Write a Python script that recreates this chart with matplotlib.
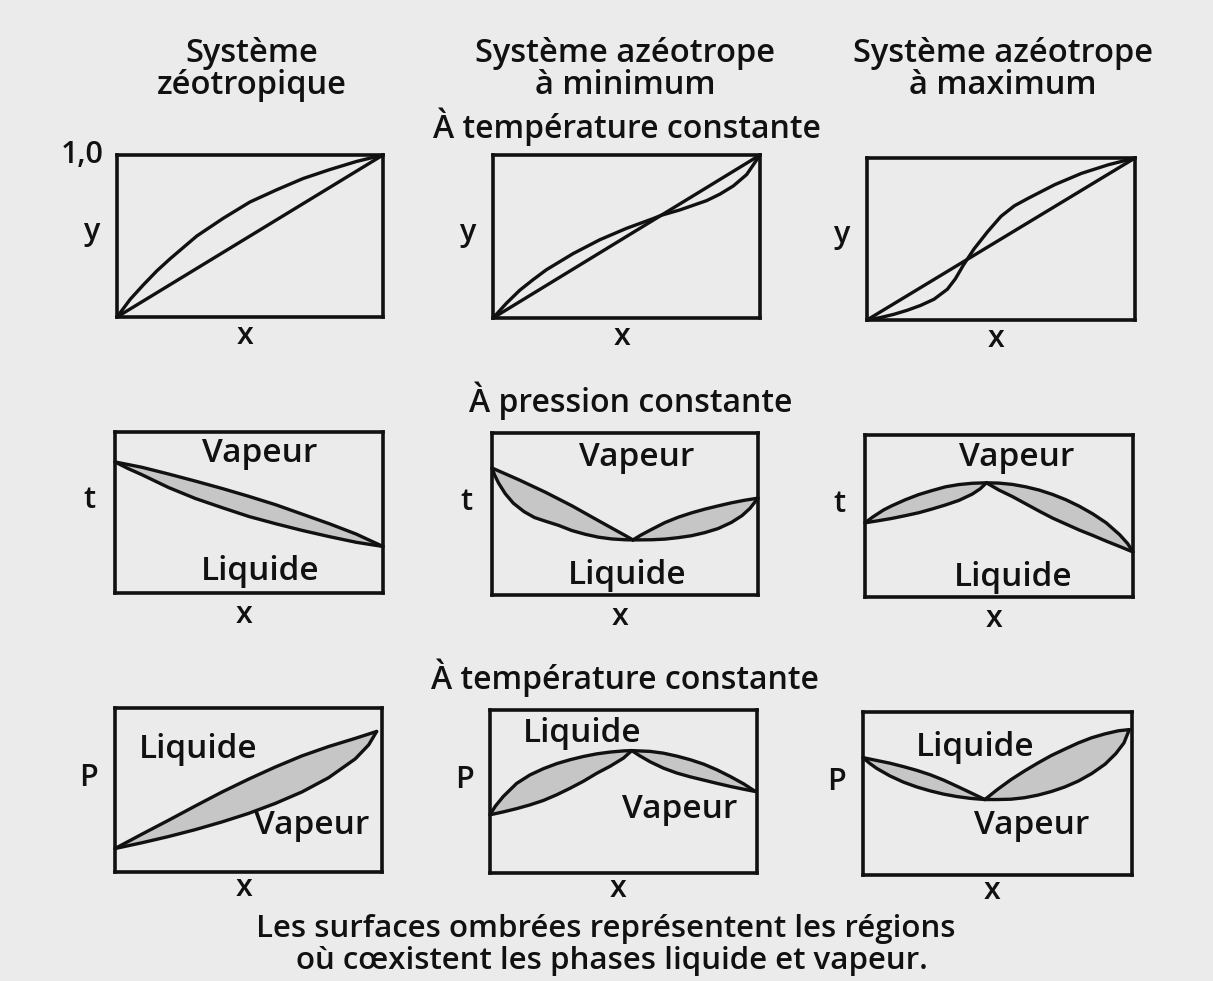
import matplotlib.pyplot as plt

W, H = 1213, 981
plt.rcParams['font.family'] = ['Open Sans', 'DejaVu Sans']

# --- y-x diagrams (constant temperature) ---
zeo_yx_x = [0, .05, .1, .15, .2, .3, .4, .5, .6, .7, .8, .9, 1]
zeo_yx_y = [0, .11, .2, .285, .36, .5, .61, .71, .785, .855, .91, .96, 1]

min_yx_x = [0, .05, .1, .15, .2, .3, .4, .5, .6, .63, .7, .8, .85, .9, .95, 1]
min_yx_y = [0, .09, .17, .235, .296, .395, .48, .55, .61, .63, .663, .72, .76, .81, .88, 1]

max_yx_x = [0, .05, .1, .15, .2, .25, .3, .33, .36, .4, .45, .5, .55, .6, .7, .8, .9, 1]
max_yx_y = [0, .015, .035, .06, .09, .128, .19, .255, .34, .44, .545, .64, .705, .75,
            .835, .905, .958, 1]

diag = [0, 1]

# --- t-x diagrams (constant pressure) ---
zeo_tx_dew_x = [0, .1, .2, .3, .4, .5, .6, .7, .8, .9, 1]
zeo_tx_dew_y = [.814, .781, .739, .695, .649, .60, .548, .489, .43, .366, .289]
zeo_tx_bub_x = [0, .05, .1, .2, .3, .4, .5, .6, .7, .8, .9, 1]
zeo_tx_bub_y = [.814, .772, .735, .655, .587, .53, .475, .43, .388, .35, .315, .289]

min_tx_left_up_x = [0, .1, .2, .3, .4, .5, .53]
min_tx_left_up_y = [.784, .712, .635, .551, .459, .368, .34]
min_tx_left_lo_x = [0, .01, .025, .05, .08, .12, .16, .2, .25, .3, .35, .4, .45, .5, .53]
min_tx_left_lo_y = [.784, .74, .69, .625, .567, .515, .478, .456, .43, .398, .375, .357,
                    .346, .341, .34]
min_tx_right_up_x = [.53, .56, .6, .65, .7, .75, .8, .85, .9, .95, 1]
min_tx_right_up_y = [.34, .37, .405, .447, .48, .507, .53, .55, .569, .585, .598]
min_tx_right_lo_x = [.53, .6, .65, .7, .75, .8, .85, .9, .94, .97, 1]
min_tx_right_lo_y = [.34, .341, .345, .354, .366, .385, .41, .448, .49, .535, .598]

max_tx_left_up_x = [0, .03, .07, .1, .15, .2, .25, .3, .35, .4, .453]
max_tx_left_up_y = [.458, .495, .538, .563, .6, .632, .657, .68, .694, .702, .705]
max_tx_left_lo_x = [0, .05, .1, .15, .2, .25, .3, .35, .4, .43, .453]
max_tx_left_lo_y = [.458, .471, .485, .502, .52, .543, .568, .596, .635, .668, .705]
max_tx_right_up_x = [.453, .5, .55, .6, .65, .7, .75, .8, .85, .9, .95, .98, 1]
max_tx_right_up_y = [.705, .703, .695, .68, .66, .633, .6, .56, .513, .458, .385, .33, .278]
max_tx_right_lo_x = [.453, .5, .55, .6, .65, .7, .75, .8, .85, .9, .95, 1]
max_tx_right_lo_y = [.705, .66, .62, .575, .53, .487, .45, .413, .38, .345, .312, .278]

# --- P-x diagrams (constant temperature) ---
zeo_px_up_x = [0, .1, .2, .3, .4, .5, .6, .7, .8, .9, .98]
zeo_px_up_y = [.143, .23, .315, .402, .487, .566, .64, .708, .765, .815, .857]
zeo_px_lo_x = [0, .1, .2, .3, .4, .5, .6, .7, .8, .9, .95, .98]
zeo_px_lo_y = [.143, .178, .216, .258, .305, .357, .418, .488, .575, .69, .775, .857]

min_px_left_up_x = [0, .02, .05, .1, .15, .2, .25, .3, .35, .4, .45, .5, .531]
min_px_left_up_y = [.357, .41, .47, .55, .602, .64, .671, .695, .715, .731, .742, .749, .751]
min_px_left_lo_x = [0, .05, .1, .15, .2, .25, .3, .35, .4, .45, .5, .531]
min_px_left_lo_y = [.357, .375, .395, .418, .445, .48, .52, .563, .612, .655, .705, .751]
min_px_right_up_x = [.531, .6, .65, .7, .75, .8, .85, .9, .95, .994]
min_px_right_up_y = [.751, .746, .735, .717, .695, .668, .633, .592, .547, .5]
min_px_right_lo_x = [.531, .56, .6, .65, .7, .75, .8, .85, .9, .95, .994]
min_px_right_lo_y = [.751, .72, .682, .643, .613, .59, .57, .55, .531, .514, .5]

max_px_left_up_x = [0, .05, .1, .15, .2, .25, .3, .35, .4, .453]
max_px_left_up_y = [.72, .703, .686, .665, .642, .615, .582, .544, .505, .463]
max_px_left_lo_x = [0, .025, .05, .1, .15, .2, .25, .3, .35, .4, .453]
max_px_left_lo_y = [.72, .685, .655, .608, .57, .54, .516, .496, .481, .47, .463]
max_px_right_up_x = [.453, .5, .55, .6, .65, .7, .75, .8, .85, .9, .95, .99]
max_px_right_up_y = [.463, .525, .585, .638, .687, .733, .772, .81, .842, .866, .885, .892]
max_px_right_lo_x = [.453, .5, .55, .6, .65, .7, .75, .8, .85, .9, .94, .97, .99]
max_px_right_lo_y = [.463, .463, .465, .474, .49, .512, .54, .576, .622, .68, .745, .81, .892]

col_titles = [("Système", "zéotropique"), ("Système azéotrope", "à minimum"),
              ("Système azéotrope", "à maximum")]
row_titles = ["À température constante", "À pression constante",
              "À température constante"]
row_ylabels = ["y", "t", "P"]
footer = ["Les surfaces ombrées représentent les régions",
          "où cœxistent les phases liquide et vapeur."]

BG = '#ebebeb'
SHADE = '#c6c6c6'
INK = '#111111'

# panel boxes in pixels: (left, top, right, bottom)
boxes = [
    [(117, 155, 383, 317), (493, 155, 760, 318), (867, 158, 1135, 320)],
    [(115, 432, 383, 593), (492, 433, 758, 595), (865, 435, 1133, 597)],
    [(115, 708, 382, 872), (490, 710, 757, 873), (863, 712, 1132, 875)],
]

fig = plt.figure(figsize=(W / 100, H / 100), dpi=100, facecolor=BG)


def px(x, y):
    return x / W, 1 - y / H


def make_ax(box):
    l, t, r, b = box
    ax = fig.add_axes([l / W, 1 - b / H, (r - l) / W, (b - t) / H])
    ax.set_xlim(0, 1)
    ax.set_ylim(0, 1)
    ax.set_facecolor(BG)
    ax.set_xticks([])
    ax.set_yticks([])
    for s in ax.spines.values():
        s.set_linewidth(2.6)
        s.set_color(INK)
    return ax


def curve(ax, x, y):
    ax.plot(x, y, color=INK, lw=2.4, solid_joinstyle='round',
            solid_capstyle='round', clip_on=False)


def lens(ax, ux, uy, lx, ly):
    ax.fill(list(ux) + list(lx[::-1]), list(uy) + list(ly[::-1]),
            color=SHADE, lw=0)
    curve(ax, ux, uy)
    curve(ax, lx, ly)


axes = [[make_ax(b) for b in row] for row in boxes]

# row 1: y vs x
a = axes[0]
curve(a[0], diag, diag)
curve(a[0], zeo_yx_x, zeo_yx_y)
curve(a[1], diag, diag)
curve(a[1], min_yx_x, min_yx_y)
curve(a[2], diag, diag)
curve(a[2], max_yx_x, max_yx_y)

# row 2: t vs x
a = axes[1]
lens(a[0], zeo_tx_dew_x, zeo_tx_dew_y, zeo_tx_bub_x, zeo_tx_bub_y)
lens(a[1], min_tx_left_up_x, min_tx_left_up_y, min_tx_left_lo_x, min_tx_left_lo_y)
lens(a[1], min_tx_right_up_x, min_tx_right_up_y, min_tx_right_lo_x, min_tx_right_lo_y)
lens(a[2], max_tx_left_up_x, max_tx_left_up_y, max_tx_left_lo_x, max_tx_left_lo_y)
lens(a[2], max_tx_right_up_x, max_tx_right_up_y, max_tx_right_lo_x, max_tx_right_lo_y)

# row 3: P vs x
a = axes[2]
lens(a[0], zeo_px_up_x, zeo_px_up_y, zeo_px_lo_x, zeo_px_lo_y)
lens(a[1], min_px_left_up_x, min_px_left_up_y, min_px_left_lo_x, min_px_left_lo_y)
lens(a[1], min_px_right_up_x, min_px_right_up_y, min_px_right_lo_x, min_px_right_lo_y)
lens(a[2], max_px_left_up_x, max_px_left_up_y, max_px_left_lo_x, max_px_left_lo_y)
lens(a[2], max_px_right_up_x, max_px_right_up_y, max_px_right_lo_x, max_px_right_lo_y)

txt = dict(color=INK, ha='center', va='center', fontweight='semibold')

# column headings, one text per line
for xc, (l1, l2) in zip([252, 625, 1003], col_titles):
    fig.text(*px(xc, 54), l1, fontsize=23.5, **txt)
    fig.text(*px(xc, 85), l2, fontsize=23.5, **txt)

# row headings
for (x, y), s in zip([(627, 127), (631, 401), (625, 678)], row_titles):
    fig.text(*px(x, y), s, fontsize=23, **txt)

fig.text(*px(104, 155), "1,0", color=INK, ha='right', va='center',
         fontsize=22, fontweight='semibold')

# axis letters around each box
x_gap = [19, 22, 16]
for r, row in enumerate(boxes):
    for l, t, rr, b in row:
        yc = (t + b) / 2 - (4 if r == 0 else 12)
        fig.text(*px(l - 26, yc), row_ylabels[r], fontsize=22, **txt)
        fig.text(*px((l + rr) / 2 - 5, b + x_gap[r]), "x", fontsize=22, **txt)

# phase labels inside the t-x and P-x panels
phase_labels = [
    ("Vapeur", 260, 453), ("Liquide", 260, 572),
    ("Vapeur", 637, 457), ("Liquide", 627, 575),
    ("Vapeur", 1017, 458), ("Liquide", 1013, 577),
    ("Liquide", 198, 750), ("Vapeur", 312, 825),
    ("Liquide", 582, 733), ("Vapeur", 680, 810),
    ("Liquide", 975, 748), ("Vapeur", 1032, 825),
]
for s, x, y in phase_labels:
    fig.text(*px(x, y), s, fontsize=24, **txt)

fig.text(*px(606, 929), footer[0], fontsize=22.5, **txt)
fig.text(*px(612, 961), footer[1], fontsize=22.5, **txt)

fig.savefig("out.png", dpi=100, facecolor=BG)
